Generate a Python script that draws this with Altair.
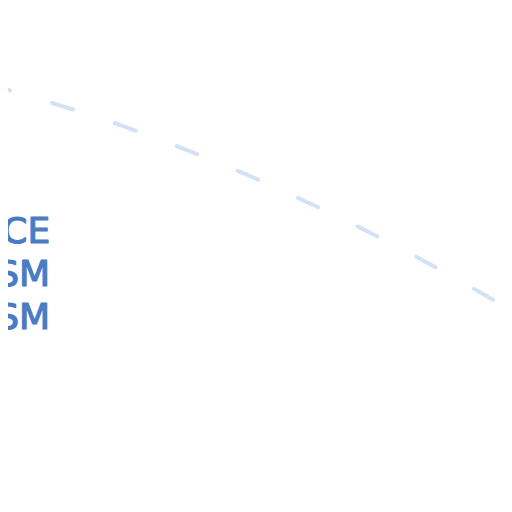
import pandas as pd
import altair as alt

# ── data ─────────────────────────────────────────────────────────────────────

curve_x = [0, 1, 2, 3, 4, 5, 6, 7, 8, 9, 10]
curve_y = [8.35, 8.05, 7.73, 7.37, 6.98, 6.56, 6.10, 5.62, 5.11, 4.56, 3.99]

label_text = ["CE", "SM", "SM"]
label_x = [0.85, 0.85, 0.85]
label_y = [5.27, 4.40, 3.53]

LINE_COLOR = "#d2e2f4"
TEXT_COLOR = "#4a7bc3"

# ── chart ────────────────────────────────────────────────────────────────────

x_scale = alt.Scale(domain=[0, 10], nice=False, zero=False)
y_scale = alt.Scale(domain=[0, 10], nice=False, zero=False)

curve = (
    alt.Chart(pd.DataFrame({"x": curve_x, "y": curve_y}))
    .mark_line(
        color=LINE_COLOR,
        strokeWidth=4,
        strokeDash=[22, 44],
        strokeDashOffset=20,
        strokeCap="round",
        interpolate="monotone",
    )
    .encode(
        x=alt.X("x:Q", scale=x_scale, axis=None),
        y=alt.Y("y:Q", scale=y_scale, axis=None),
    )
)

labels = (
    alt.Chart(pd.DataFrame({"x": label_x, "y": label_y, "t": label_text}))
    .mark_text(
        align="right",
        baseline="alphabetic",
        font="DejaVu Sans",
        fontSize=36,
        color=TEXT_COLOR,
        stroke=TEXT_COLOR,
        strokeWidth=1.2,
        strokeJoin="round",
    )
    .encode(
        x=alt.X("x:Q", scale=x_scale, axis=None),
        y=alt.Y("y:Q", scale=y_scale, axis=None),
        text="t:N",
    )
)

chart = (
    (curve + labels)
    .properties(
        width=496,
        height=496,
        padding=0,
        autosize=alt.AutoSizeParams(type="none"),
    )
    .configure(background="white")
    .configure_view(strokeOpacity=0)
)

chart.save("out.html", embed_options={"renderer": "svg", "actions": False})
